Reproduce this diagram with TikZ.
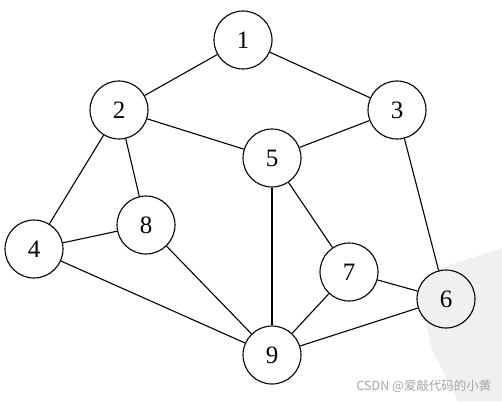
\documentclass[tikz,border=0pt]{standalone}
\usepackage{fontspec}
\setmainfont{Liberation Serif}
\newfontfamily\cjk{Noto Sans CJK SC}
\tikzset{vertex/.style={draw,circle,line width=1.1pt,minimum size=58pt,inner sep=0pt,font=\fontsize{25}{28}\selectfont}}
\begin{document}
\begin{tikzpicture}[x=1pt,y=-1pt]
                \useasboundingbox (0,0) rectangle (502,401);
                %\draw[help lines] (0,0) grid (502,401);
                \fill[gray!12] (502,248) -- (440,268) -- (421,300) -- (432,350) -- (458,401) -- (502,401) -- cycle;
                \node[vertex] (n1) at (243,40) {1};
                \node[vertex] (n2) at (119,110) {2};
                \node[vertex] (n3) at (397,110) {3};
                \node[vertex] (n5) at (272,158) {5};
                \node[vertex] (n8) at (146,225) {8};
                \node[vertex] (n4) at (34,249) {4};
                \node[vertex] (n7) at (349,272) {7};
                \node[vertex,fill=gray!12] (n6) at (446,299) {6};
                \node[vertex] (n9) at (272,355) {9};
                \draw[line width=1.1pt] (n1) -- (n2);
                \draw[line width=1.1pt] (n1) -- (n3);
                \draw[line width=1.1pt] (n2) -- (n5);
                \draw[line width=1.1pt] (n3) -- (n5);
                \draw[line width=1.1pt] (n2) -- (n4);
                \draw[line width=1.1pt] (n2) -- (n8);
                \draw[line width=1.1pt] (n4) -- (n8);
                \draw[line width=1.1pt] (n4) -- (n9);
                \draw[line width=1.1pt] (n8) -- (n9);
                \draw[line width=1.1pt] (n5) -- (n9);
                \draw[line width=1.1pt] (n5) -- (n7);
                \draw[line width=1.1pt] (n7) -- (n9);
                \draw[line width=1.1pt] (n7) -- (n6);
                \draw[line width=1.1pt] (n3) -- (n6);
                \draw[line width=1.1pt] (n9) -- (n6);
                \node[text=gray!70,font=\cjk\fontsize{12.5}{14}\selectfont] (mark) at (424,386) {CSDN @爱敲代码的小黄};
            \end{tikzpicture}
\end{document}
